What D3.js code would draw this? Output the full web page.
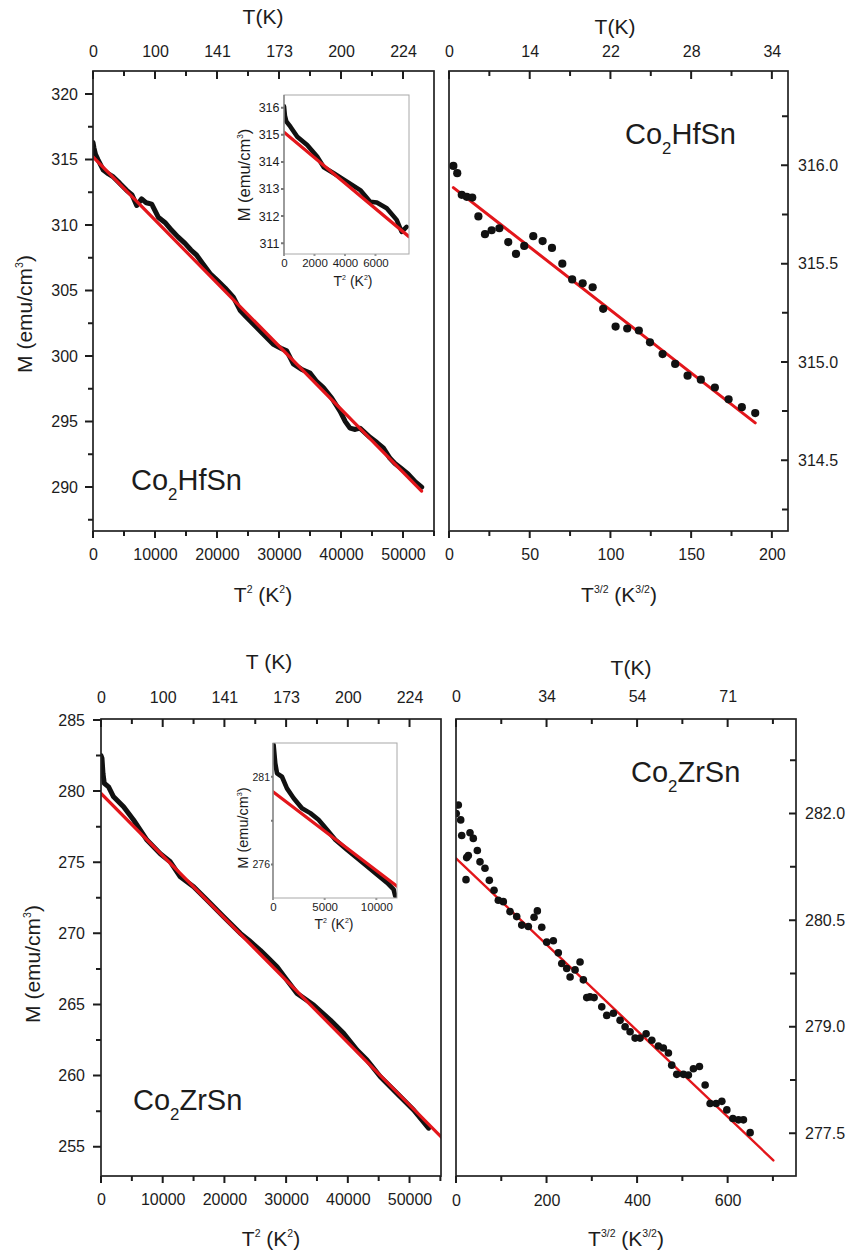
<!DOCTYPE html>
<html lang="en">
<head>
<meta charset="utf-8">
<title>Co2HfSn / Co2ZrSn magnetization</title>
<script src="https://cdn.jsdelivr.net/npm/d3@7"></script>
<style>
    body { margin: 0; background: #fff; }
    text { font-family: "Liberation Sans", Arial, sans-serif; fill: #1c1c1c; }
</style>
</head>
<body>
<script>

// ---- Co2HfSn, M vs T^2 (main) ----
var hfT2 = [0, 150, 400, 800, 1660, 2500, 3280, 4300, 5430, 6300, 7050, 7850, 8600, 9470, 10530, 11600, 12690, 13700,
            14840, 15800, 16720, 17800, 18870, 20000, 21300, 22630, 23710, 24700, 25850, 27400, 29080, 30300, 31240,
            32310, 33600, 35000, 36000, 37150, 38500, 39840, 40700, 41450, 42300, 43060, 44680, 45800, 46820, 47900,
            48700, 49520, 50800, 52000, 53020];
var hfM  = [316.3, 315.9, 315.4, 315.0, 314.2, 313.9, 313.67, 313.2, 312.65, 312.3, 311.5, 312.0, 311.7, 311.6, 310.6,
            310.2, 309.6, 309.1, 308.6, 308.1, 307.7, 307.0, 306.3, 305.8, 305.2, 304.5, 303.5, 303.0, 302.45, 301.7,
            300.9, 300.6, 300.4, 299.4, 299.0, 298.7, 298.1, 297.6, 296.8, 295.8, 295.0, 294.5, 294.4, 294.5, 293.8,
            293.4, 293.0, 292.2, 291.8, 291.5, 291.0, 290.4, 290.0];
var hfFitT2 = [0, 53000];
var hfFitM  = [315.2, 289.7];

// inset
var hfInT2 = [0, 60, 150, 420, 870, 1520, 2170, 2610, 3260, 4130, 5000, 5650, 6090, 6740, 7390, 7720, 8040];
var hfInM  = [316.05, 315.7, 315.5, 315.3, 314.93, 314.62, 314.2, 313.8, 313.58, 313.27, 312.96, 312.53, 312.5, 312.29, 311.86, 311.42, 311.6];
var hfInFitT2 = [0, 8200];
var hfInFitM  = [315.1, 311.24];

// ---- Co2HfSn, M vs T^3/2 ----
var hfT32 = [2.7, 5.1, 7.9, 11, 14.4, 18.2, 22.3, 26.4, 31.2, 36.7, 41.5, 46.6, 52.2, 58, 63.8, 70.2, 76.3, 82.8, 89,
             95.5, 103.2, 110.4, 117.6, 124.5, 132.3, 140.1, 147.8, 156, 164.7, 173.2, 181.4, 189.7];
var hfM32 = [315.997, 315.96, 315.85, 315.84, 315.836, 315.74, 315.65, 315.67, 315.68, 315.61, 315.55, 315.59, 315.64,
             315.615, 315.58, 315.50, 315.42, 315.40, 315.38, 315.27, 315.18, 315.17, 315.16, 315.10, 315.04, 314.99,
             314.93, 314.91, 314.87, 314.81, 314.77, 314.74];
var hfFitT32 = [2.7, 189.7];
var hfFitM32 = [315.887, 314.69];

// ---- Co2ZrSn, M vs T^2 (main) ----
var zrT2 = [0, 160, 320, 530, 1230, 2040, 3660, 5280, 7450, 9610, 11230, 12850, 15010, 17180, 19870, 22580, 24000,
            25820, 26900, 28520, 30150, 31770, 34460, 37160, 39320, 41490, 43110, 45270, 47970, 50660, 53090];
var zrM  = [282.5, 282.3, 281.25, 280.55, 280.3, 279.6, 278.9, 277.97, 276.56, 275.6, 275.03, 273.98, 273.28, 272.34,
            271.17, 270.0, 269.5, 268.8, 268.35, 267.65, 266.7, 265.78, 264.96, 263.9, 262.97, 261.8, 261.1, 259.92,
            258.75, 257.58, 256.3];
var zrFitT2 = [0, 56000];
var zrFitM  = [279.84, 255.31];

// inset
var zrInT2 = [0, 60, 220, 390, 870, 1350, 2000, 2800, 3610, 4410, 5230, 6030, 7160, 8130, 9100, 10060, 11030, 11670, 11830];
var zrInM  = [282.9, 282.79, 281.76, 281.19, 281.0, 280.34, 279.78, 279.21, 278.93, 278.55, 277.98, 277.42, 276.85,
              276.38, 275.91, 275.44, 274.97, 274.59, 274.21];
var zrInFitT2 = [0, 12000];
var zrInFitM  = [280.15, 274.77];

// ---- Co2ZrSn, M vs T^3/2 ----
var zrT32 = [0.5, 5.1, 10.4, 12.6, 22.1, 23.6, 27.2, 30.9, 38.2, 47.1, 53, 64, 73.6, 84, 93.5, 104.5, 119.3, 134.1,
             145.2, 159.8, 172.4, 179.7, 189.4, 200.4, 215, 226, 233.6, 244.6, 252, 263, 274, 281.3, 288.8, 296, 305,
             322, 333, 347.6, 362.4, 373.5, 384.5, 395.6, 406.6, 419.9, 432.5, 447, 458, 469.2, 476.5, 487.6, 502.3,
             513.3, 524.4, 537.7, 550.3, 561.3, 574.6, 587.2, 598.2, 611.5, 623.9, 634.9, 649.7];
var zrM32 = [282.0, 282.12, 281.91, 281.69, 281.07, 281.38, 281.41, 281.73, 281.65, 281.48, 281.32, 281.23, 281.06,
             280.92, 280.78, 280.76, 280.62, 280.55, 280.43, 280.41, 280.54, 280.63, 280.40, 280.19, 280.21, 280.04,
             279.89, 279.82, 279.70, 279.80, 279.91, 279.66, 279.41, 279.42, 279.41, 279.28, 279.16, 279.19, 279.09,
             279.00, 278.93, 278.84, 278.84, 278.90, 278.81, 278.73, 278.70, 278.63, 278.46, 278.33, 278.33, 278.32,
             278.41, 278.44, 278.18, 277.92, 277.92, 277.95, 277.83, 277.71, 277.69, 277.69, 277.51];
var zrFitT32 = [0, 701];
var zrFitM32 = [281.37, 277.12];

// ---- ticks ----
var t2Ticks = [0, 10000, 20000, 30000, 40000, 50000];
var t2Minor = [5000, 15000, 25000, 35000, 45000, 55000];
var t2TopLabels = ["0", "100", "141", "173", "200", "224"];
var hfMTicks = [290, 295, 300, 305, 310, 315, 320];
var hfMMinor = [287.5, 292.5, 297.5, 302.5, 307.5, 312.5, 317.5];
var hfT32Ticks = [0, 50, 100, 150, 200];
var hfT32Minor = [25, 75, 125, 175];
var hfT32TopLabels = ["0", "14", "22", "28", "34"];
var hfM32Ticks = [314.5, 315.0, 315.5, 316.0];
var hfM32Minor = [314.25, 314.75, 315.25, 315.75, 316.25];
var zrMTicks = [255, 260, 265, 270, 275, 280, 285];
var zrMMinor = [257.5, 262.5, 267.5, 272.5, 277.5, 282.5];
var zrT32Ticks = [0, 200, 400, 600];
var zrT32Minor = [100, 300, 500, 700];
var zrT32TopLabels = ["0", "34", "54", "71"];
var zrM32Ticks = [277.5, 279.0, 280.5, 282.0];
var zrM32Minor = [278.25, 279.75, 281.25, 282.75];
var hfInXTicks = [0, 2000, 4000, 6000];
var hfInYTicks = [311, 312, 313, 314, 315, 316];
var zrInXTicks = [0, 5000, 10000];
var zrInYTicks = [276, 281];
var zrInYMinor = [278.5];

var red = "#e3161b";
var svg = d3.select("body").append("svg").attr("width", 851).attr("height", 1254);
svg.append("rect").attr("width", 851).attr("height", 1254).attr("fill", "#fff");

var clipN = 0;

// rich text: parts = [[text, ""|"sup"|"sub"], ...]
function rich(x, y, parts, size, anchor, rotate) {
    var t = svg.append("text").attr("font-size", size).attr("text-anchor", anchor || "start");
    if (rotate) t.attr("transform", "translate(" + x + "," + y + ") rotate(-90)");
    else t.attr("x", x).attr("y", y);
    var shift = 0;
    parts.forEach(function(p) {
        var target = p[1] == "sup" ? -0.42 * size : (p[1] == "sub" ? 0.36 * size : 0);
        t.append("tspan")
            .attr("dy", target - shift)
            .attr("font-size", p[1] ? size * (p[1] == "sub" ? 0.58 : 0.5) : size)
            .text(p[0]);
        shift = target;
    });
    return t;
}

// labels via d3 axis; tick strokes as one path built from the scale
var gens = { bottom: d3.axisBottom, top: d3.axisTop, left: d3.axisLeft, right: d3.axisRight };
function axis(orient, scale, at, vals, size, pad, fmt, fs, color) {
    var horiz = orient == "bottom" || orient == "top";
    var a = svg.append("g").attr("transform", horiz ? "translate(0," + at + ")" : "translate(" + at + ",0)")
        .call(gens[orient](scale).tickValues(vals).tickSize(size).tickPadding(pad).tickFormat(fmt));
    a.select(".domain").remove();
    a.selectAll(".tick line").remove();
    a.attr("font-family", null).attr("font-size", fs);
    var dir = (orient == "bottom" || orient == "right") ? 1 : -1;
    var p = d3.path();
    vals.forEach(function(v) {
        var s = scale(v);
        if (horiz) { p.moveTo(s, at); p.lineTo(s, at + dir * size); }
        else { p.moveTo(at, s); p.lineTo(at + dir * size, s); }
    });
    svg.append("path").attr("d", p.toString()).attr("fill", "none")
        .attr("stroke", color || "#1c1c1c").attr("stroke-width", 2);
    return a;
}

function panel(c) {
    var b = c.box;
    var x = d3.scaleLinear().domain(c.xDom).range([b[0], b[2]]);
    var y = d3.scaleLinear().domain(c.yDom).range([b[3], b[1]]);
    var id = "clip" + (clipN++);
    svg.append("clipPath").attr("id", id).append("rect")
        .attr("x", b[0]).attr("y", b[1]).attr("width", b[2] - b[0]).attr("height", b[3] - b[1]);
    var g = svg.append("g").attr("clip-path", "url(#" + id + ")");
    if (c.fill) g.append("rect").attr("x", b[0]).attr("y", b[1]).attr("width", b[2] - b[0]).attr("height", b[3] - b[1]).attr("fill", "#fff");
    return { x: x, y: y, g: g };
}

function curve(p, xs, ys, color, w) {
    p.g.append("path")
        .datum(xs.map(function(v, i) { return [v, ys[i]]; }))
        .attr("fill", "none").attr("stroke", color).attr("stroke-width", w)
        .attr("stroke-linejoin", "round").attr("stroke-linecap", "round")
        .attr("d", d3.line().x(function(d) { return p.x(d[0]); }).y(function(d) { return p.y(d[1]); }));
}

function dots(p, xs, ys, r) {
    p.g.selectAll(null).data(xs).enter().append("circle")
        .attr("cx", function(d) { return p.x(d); })
        .attr("cy", function(d, i) { return p.y(ys[i]); })
        .attr("r", r).attr("fill", "#111");
}

function frame(b, color, w) {
    svg.append("rect").attr("x", b[0]).attr("y", b[1]).attr("width", b[2] - b[0]).attr("height", b[3] - b[1])
        .attr("fill", "none").attr("stroke", color).attr("stroke-width", w);
}

var fInt = d3.format("d"), f1 = d3.format(".1f"), none = function() { return ""; };
var mTitle = [["M (emu/cm", ""], ["3", "sup"], [")", ""]];

// ================= top-left: Co2HfSn vs T^2 =================
var tlBox = [93, 71, 434, 531];
var tl = panel({ box: tlBox, xDom: [0, 55000], yDom: [286.65, 321.76] });
curve(tl, hfT2, hfM, "#111", 5);
curve(tl, hfFitT2, hfFitM, red, 3.2);
frame(tlBox, "#222", 1.7);
axis("bottom", tl.x, tlBox[3], t2Ticks, 7, 11, fInt, 16);
axis("bottom", tl.x, tlBox[3], t2Minor, 5, 0, none, 16);
axis("top", tl.x, tlBox[1], t2Ticks, -8, 14, function(d, i) { return t2TopLabels[i]; }, 16);
axis("top", tl.x, tlBox[1], t2Minor.slice(0, 5), -5, 0, none, 16);
axis("left", tl.y, tlBox[0], hfMTicks, 8, 7, fInt, 16);
axis("left", tl.y, tlBox[0], hfMMinor, 5, 0, none, 16);
rich(263, 24, [["T(K)", ""]], 21, "middle");
rich(263, 602, [["T", ""], ["2", "sup"], [" (K", ""], ["2", "sup"], [")", ""]], 21, "middle");
rich(32, 314, mTitle, 21, "middle", true);
rich(131, 490, [["Co", ""], ["2", "sub"], ["HfSn", ""]], 29);

// inset
var tiBox = [284, 95, 409, 254];
var ti = panel({ box: tiBox, xDom: [0, 8200], yDom: [310.6, 316.47], fill: true });
curve(ti, hfInT2, hfInM, "#111", 4.6);
curve(ti, hfInFitT2, hfInFitM, red, 3.2);
frame(tiBox, "#a8a8a8", 1);
svg.append("line").attr("x1", tiBox[0]).attr("x2", tiBox[0]).attr("y1", tiBox[1]).attr("y2", tiBox[3]).attr("stroke", "#777").attr("stroke-width", 1.2);
axis("left", ti.y, tiBox[0], hfInYTicks, 3, 1.5, fInt, 12.5, "#777");
axis("bottom", ti.x, tiBox[3], hfInXTicks, 2, 2.5, fInt, 11.5, "#999");
rich(353, 286, [["T", ""], ["2", "sup"], [" (K", ""], ["2", "sup"], [")", ""]], 14, "middle");
rich(250, 175, mTitle, 16.5, "middle", true);

// ================= top-right: Co2HfSn vs T^3/2 =================
var trBox = [449, 71, 788, 531];
var tr = panel({ box: trBox, xDom: [0, 210], yDom: [314.14, 316.48] });
curve(tr, hfFitT32, hfFitM32, red, 3);
dots(tr, hfT32, hfM32, 4.1);
frame(trBox, "#222", 1.7);
axis("bottom", tr.x, trBox[3], hfT32Ticks, 7, 11, fInt, 16);
axis("bottom", tr.x, trBox[3], hfT32Minor, 5, 0, none, 16);
axis("top", tr.x, trBox[1], hfT32Ticks, -8, 14, function(d, i) { return hfT32TopLabels[i]; }, 16);
axis("top", tr.x, trBox[1], hfT32Minor, -5, 0, none, 16);
axis("right", tr.y, trBox[2], hfM32Ticks, -7, 10, f1, 16);
axis("right", tr.y, trBox[2], hfM32Minor, -6, 0, none, 16);
rich(615, 34, [["T(K)", ""]], 21, "middle");
rich(619, 602, [["T", ""], ["3/2", "sup"], [" (K", ""], ["3/2", "sup"], [")", ""]], 21, "middle");
rich(625, 144, [["Co", ""], ["2", "sub"], ["HfSn", ""]], 29);

// ================= bottom-left: Co2ZrSn vs T^2 =================
var blBox = [101, 719, 441, 1176];
var bl = panel({ box: blBox, xDom: [0, 55100], yDom: [252.94, 285.07] });
curve(bl, zrT2, zrM, "#111", 5);
curve(bl, zrFitT2, zrFitM, red, 3.2);
frame(blBox, "#222", 1.7);
axis("bottom", bl.x, blBox[3], t2Ticks, 7, 11, fInt, 16);
axis("bottom", bl.x, blBox[3], t2Minor, 5, 0, none, 16);
axis("top", bl.x, blBox[1], t2Ticks, -8, 16, function(d, i) { return t2TopLabels[i]; }, 16);
axis("top", bl.x, blBox[1], t2Minor.slice(0, 5), -5, 0, none, 16);
axis("left", bl.y, blBox[0], zrMTicks, 8, 8, fInt, 16);
axis("left", bl.y, blBox[0], zrMMinor, 5, 0, none, 16);
rich(269, 669, [["T (K)", ""]], 21, "middle");
rich(271, 1246, [["T", ""], ["2", "sup"], [" (K", ""], ["2", "sup"], [")", ""]], 21, "middle");
rich(40, 964, mTitle, 21, "middle", true);
rich(133, 1110, [["Co", ""], ["2", "sub"], ["ZrSn", ""]], 29);

// inset
var biBox = [273, 743, 397, 898];
var bi = panel({ box: biBox, xDom: [0, 12000], yDom: [274.1, 282.92], fill: true });
curve(bi, zrInT2, zrInM, "#111", 4.6);
curve(bi, zrInFitT2, zrInFitM, red, 3.2);
frame(biBox, "#a8a8a8", 1);
svg.append("line").attr("x1", biBox[0]).attr("x2", biBox[0]).attr("y1", biBox[1]).attr("y2", biBox[3]).attr("stroke", "#777").attr("stroke-width", 1.2);
axis("left", bi.y, biBox[0], zrInYTicks, 2, 1, fInt, 10.5, "#777");
axis("left", bi.y, biBox[0], zrInYMinor, 2, 0, none, 10.5, "#777");
axis("bottom", bi.x, biBox[3], zrInXTicks, 2, 3, fInt, 11.5, "#999");
rich(334, 929, [["T", ""], ["2", "sup"], [" (K", ""], ["2", "sup"], [")", ""]], 14, "middle");
rich(248, 828, mTitle, 14.5, "middle", true);

// ================= bottom-right: Co2ZrSn vs T^3/2 =================
var brBox = [456, 719, 796, 1176];
var br = panel({ box: brBox, xDom: [0, 751], yDom: [276.9, 283.33] });
curve(br, zrFitT32, zrFitM32, red, 2.4);
dots(br, zrT32, zrM32, 3.8);
frame(brBox, "#222", 1.7);
axis("bottom", br.x, brBox[3], zrT32Ticks, 7, 12, fInt, 16);
axis("bottom", br.x, brBox[3], zrT32Minor, 5, 0, none, 16);
axis("top", br.x, brBox[1], zrT32Ticks, -8, 17, function(d, i) { return zrT32TopLabels[i]; }, 16);
axis("top", br.x, brBox[1], zrT32Minor, -5, 0, none, 16);
axis("right", br.y, brBox[2], zrM32Ticks, -7, 9, f1, 16);
axis("right", br.y, brBox[2], zrM32Minor, -6, 0, none, 16);
rich(631, 675, [["T(K)", ""]], 21, "middle");
rich(626, 1246, [["T", ""], ["3/2", "sup"], [" (K", ""], ["3/2", "sup"], [")", ""]], 21, "middle");
rich(631, 782, [["Co", ""], ["2", "sub"], ["ZrSn", ""]], 29);

</script>
</body>
</html>
